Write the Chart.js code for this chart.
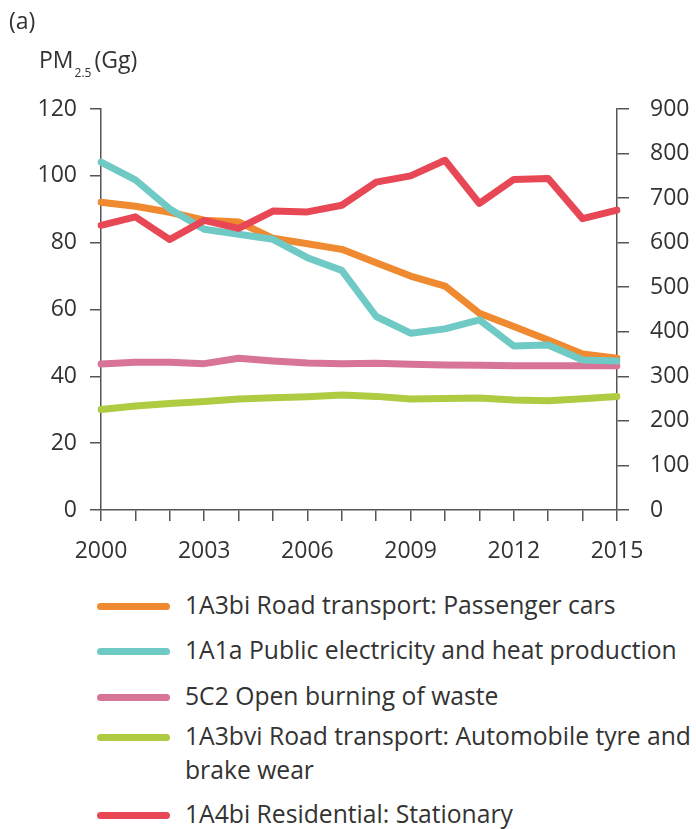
<!DOCTYPE html>
<html>
<head>
<meta charset="utf-8">
<script src="https://cdn.jsdelivr.net/npm/chart.js@4/dist/chart.umd.min.js"></script>
<style>
  html, body { margin: 0; padding: 0; background: #fff; }
  body { width: 696px; height: 829px; position: relative; overflow: hidden; font-family: "Open Sans", sans-serif; color: #333; }
  #wrap { position: absolute; left: 0; top: 0; width: 696px; height: 580px; }
  #panel { position: absolute; left: 9px; top: 4px; font-size: 23px; line-height: normal; }
  #unit { position: absolute; left: 39px; top: 43px; font-size: 23px; line-height: normal; white-space: nowrap; }
  #unit .sb { font-size: 12px; position: relative; top: 9px; margin: 0 3px 0 1px; }
  #legend { position: absolute; left: 0; top: 0; width: 696px; }
  .li { position: absolute; left: 97px; }
  .sw { position: absolute; left: 0; width: 73px; height: 7px; border-radius: 3.5px; }
  .tx { position: absolute; left: 88px; font-size: 24.7px; line-height: 34px; white-space: nowrap; }
</style>
</head>
<body>
<div id="wrap"><canvas id="c" width="696" height="580"></canvas></div>
<div id="panel">(a)</div>
<div id="unit">PM<span class="sb">2.5</span>(Gg)</div>
<div id="legend"></div>
<script>
const years = ["2000","2001","2002","2003","2004","2005","2006","2007","2008","2009","2010","2011","2012","2013","2014","2015"];
const leftTicks = [0, 20, 40, 60, 80, 100, 120];
const rightTicks = [0, 100, 200, 300, 400, 500, 600, 700, 800, 900];

const passengerCars = [92.1, 90.9, 89.1, 86.7, 86.2, 81.3, 79.7, 78.0, 74.0, 70.0, 67.0, 58.9, 54.9, 50.9, 46.7, 45.4];
const publicElectricity = [104.1, 98.8, 90.1, 84.0, 82.5, 81.0, 75.5, 71.7, 57.9, 52.9, 54.2, 56.9, 49.1, 49.4, 44.9, 44.6];
const openBurning = [43.7, 44.2, 44.2, 43.8, 45.4, 44.6, 44.0, 43.8, 43.9, 43.6, 43.4, 43.3, 43.2, 43.2, 43.2, 43.2];
const tyreBrake = [30.1, 31.1, 31.9, 32.5, 33.2, 33.6, 33.9, 34.4, 34.0, 33.2, 33.4, 33.5, 32.9, 32.7, 33.3, 34.0];
const residential = [639, 658, 607, 650, 632, 671, 669, 684, 736, 750, 785, 688, 742, 744, 654, 673];

const seriesNames = [
  "1A3bi Road transport: Passenger cars",
  "1A1a Public electricity and heat production",
  "5C2 Open burning of waste",
  "1A3bvi Road transport: Automobile tyre and brake wear",
  "1A4bi Residential: Stationary"
];
const colors = ["#F08A30", "#6FC9C4", "#D77498", "#AFCB42", "#E84855"];

const ds = (label, data, color, axis, order) => ({
  label, data, borderColor: color, backgroundColor: color, yAxisID: axis, order,
  borderWidth: 7, pointRadius: 0, tension: 0, borderJoinStyle: 'round', borderCapStyle: 'round', fill: false
});

const axisColor = '#555';
const tickFont = { family: "Open Sans", size: 23 };

new Chart(document.getElementById('c'), {
  type: 'line',
  data: {
    labels: years,
    datasets: [
      ds(seriesNames[0], passengerCars, colors[0], 'yL', 2),
      ds(seriesNames[1], publicElectricity, colors[1], 'yL', 1),
      ds(seriesNames[2], openBurning, colors[2], 'yL', 3),
      ds(seriesNames[3], tyreBrake, colors[3], 'yL', 4),
      ds(seriesNames[4], residential, colors[4], 'yR', 0)
    ]
  },
  options: {
    responsive: false,
    animation: false,
    layout: { padding: { top: 109, bottom: 10, left: 0, right: 0 } },
    plugins: { legend: { display: false }, tooltip: { enabled: false } },
    scales: {
      x: {
        type: 'category',
        offset: false,
        grid: { drawOnChartArea: false, color: axisColor, lineWidth: 1.5, tickLength: 11 },
        border: { display: true, color: axisColor, width: 1.5 },
        ticks: {
          autoSkip: false, maxRotation: 0, color: '#333', font: tickFont, padding: 17,
          callback: function(v, i) { return i % 3 === 0 ? years[i] : ''; }
        },
        afterFit: s => { s.height = 60; }
      },
      yL: {
        position: 'left', min: 0, max: 120,
        afterBuildTicks: s => { s.ticks = leftTicks.map(v => ({ value: v })); },
        grid: { drawOnChartArea: false, color: axisColor, lineWidth: 1.5, tickLength: 11 },
        border: { display: true, color: axisColor, width: 1.5 },
        ticks: { color: '#333', font: tickFont, padding: 13 },
        afterFit: s => { s.width = 101; }
      },
      yR: {
        position: 'right', min: 0, max: 900,
        afterBuildTicks: s => { s.ticks = rightTicks.map(v => ({ value: v })); },
        grid: { drawOnChartArea: false, color: axisColor, lineWidth: 1.5, tickLength: 12 },
        border: { display: true, color: axisColor, width: 1.5 },
        ticks: { color: '#333', font: tickFont, padding: 21 },
        afterFit: s => { s.width = 79; }
      }
    }
  }
});

// HTML legend
const legendRows = [
  { y: 606, lines: [seriesNames[0]] },
  { y: 651, lines: [seriesNames[1]] },
  { y: 697, lines: [seriesNames[2]] },
  { y: 737, lines: ["1A3bvi Road transport: Automobile tyre and", "brake wear"] },
  { y: 815, lines: [seriesNames[4]] }
];
const lg = document.getElementById('legend');
legendRows.forEach((r, i) => {
  const d = document.createElement('div');
  d.className = 'li';
  d.style.top = r.y + 'px';
  const sw = document.createElement('div');
  sw.className = 'sw';
  sw.style.top = '-3.5px';
  sw.style.background = colors[i];
  d.appendChild(sw);
  r.lines.forEach((t, k) => {
    const tx = document.createElement('div');
    tx.className = 'tx';
    tx.style.top = (-18 + k * 34) + 'px';
    tx.textContent = t;
    d.appendChild(tx);
  });
  lg.appendChild(d);
});
</script>
</body>
</html>
